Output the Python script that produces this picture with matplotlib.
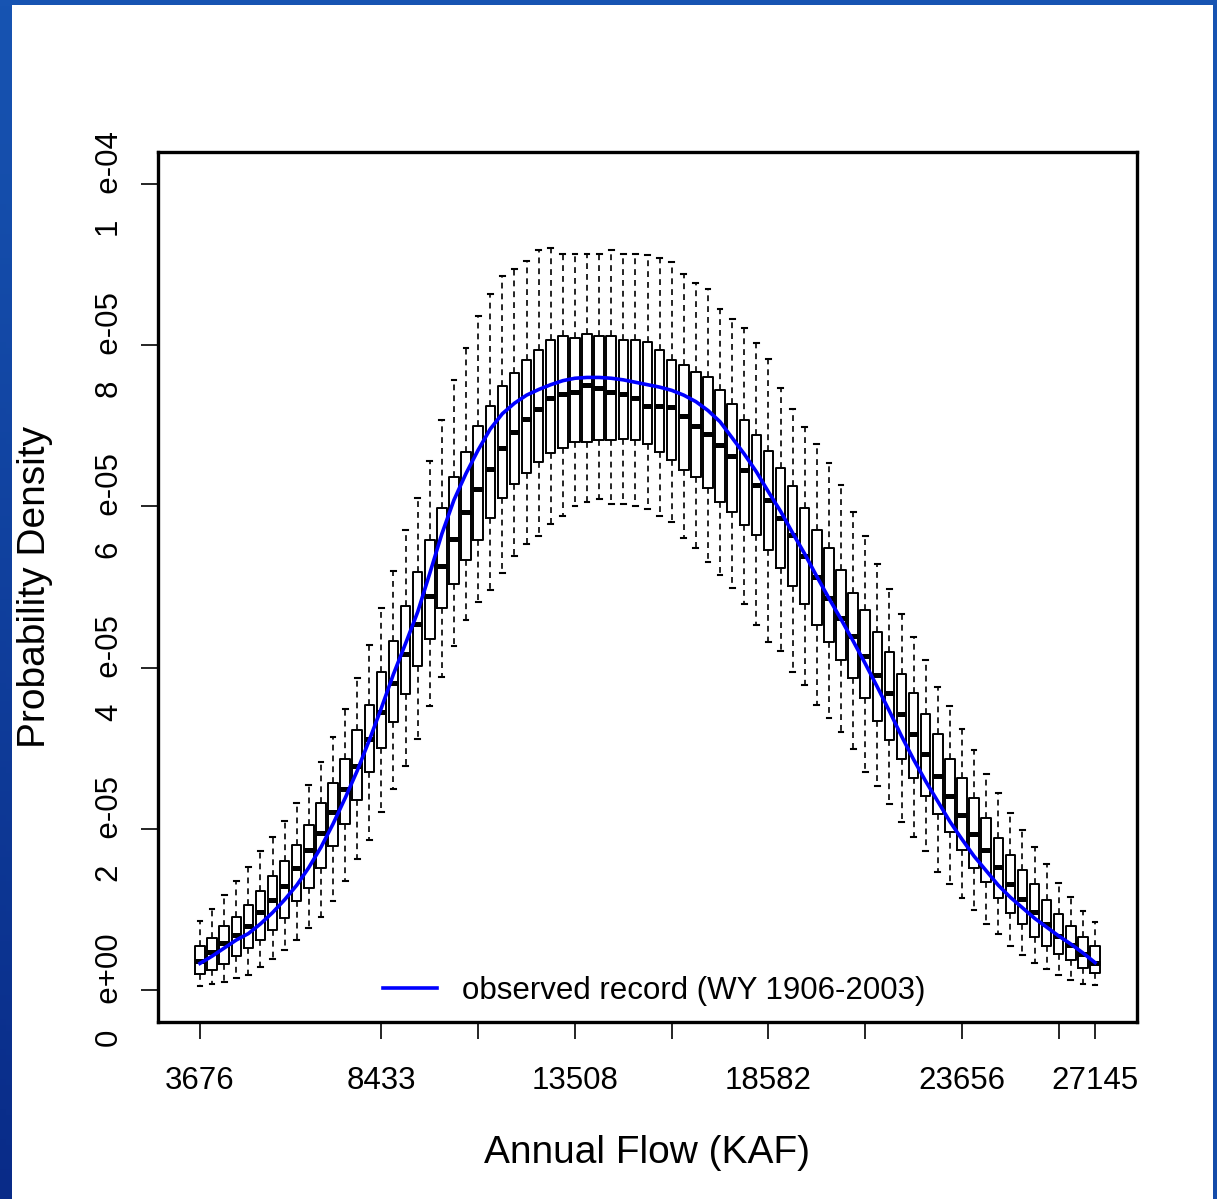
import numpy as np
import matplotlib.pyplot as plt
from matplotlib.patches import Rectangle

plt.rcParams['font.family'] = ['Liberation Sans', 'DejaVu Sans']

# boxplot stats per flow bin (units of 1e-05)
upper_whisker = [0.86, 1.00, 1.18, 1.35, 1.53, 1.73, 1.90, 2.10, 2.32, 2.54,
                 2.83, 3.14, 3.49, 3.87, 4.28, 4.74, 5.20, 5.71, 6.11, 6.56,
                 7.07, 7.57, 7.97, 8.36, 8.64, 8.86, 8.95, 9.04, 9.18, 9.21,
                 9.13, 9.13, 9.13, 9.13, 9.18, 9.13, 9.13, 9.12, 9.08, 9.03,
                 8.88, 8.77, 8.70, 8.45, 8.33, 8.21, 8.03, 7.83, 7.47, 7.21,
                 6.99, 6.77, 6.54, 6.26, 5.93, 5.63, 5.28, 4.98, 4.66, 4.38,
                 4.09, 3.76, 3.52, 3.24, 2.98, 2.68, 2.45, 2.20, 1.98, 1.78,
                 1.56, 1.33, 1.16, 0.98, 0.84]
q3 = [0.54, 0.65, 0.79, 0.91, 1.05, 1.23, 1.41, 1.60, 1.80, 2.05,
      2.32, 2.57, 2.87, 3.22, 3.54, 3.94, 4.33, 4.76, 5.18, 5.58,
      5.98, 6.36, 6.68, 7.00, 7.25, 7.49, 7.66, 7.82, 7.94, 8.06,
      8.11, 8.09, 8.14, 8.11, 8.11, 8.06, 8.06, 8.04, 7.94, 7.82,
      7.75, 7.67, 7.60, 7.44, 7.27, 7.07, 6.89, 6.69, 6.48, 6.25,
      5.98, 5.71, 5.49, 5.21, 4.93, 4.71, 4.44, 4.19, 3.92, 3.69,
      3.42, 3.17, 2.87, 2.63, 2.38, 2.13, 1.88, 1.68, 1.49, 1.31,
      1.12, 0.94, 0.79, 0.66, 0.55]
median = [0.36, 0.475, 0.58, 0.68, 0.79, 0.97, 1.12, 1.29, 1.51, 1.74,
          1.95, 2.21, 2.49, 2.78, 3.11, 3.45, 3.81, 4.17, 4.54, 4.89,
          5.26, 5.60, 5.93, 6.22, 6.47, 6.73, 6.92, 7.09, 7.21, 7.34,
          7.40, 7.42, 7.50, 7.47, 7.42, 7.40, 7.34, 7.25, 7.24, 7.23,
          7.12, 7.00, 6.90, 6.76, 6.62, 6.45, 6.26, 6.08, 5.86, 5.64,
          5.38, 5.12, 4.86, 4.62, 4.39, 4.14, 3.91, 3.68, 3.42, 3.17,
          2.93, 2.66, 2.41, 2.17, 1.94, 1.74, 1.52, 1.32, 1.13, 0.97,
          0.82, 0.67, 0.56, 0.45, 0.33]
q1 = [0.20, 0.25, 0.32, 0.42, 0.52, 0.62, 0.74, 0.89, 1.10, 1.26,
      1.51, 1.79, 2.06, 2.36, 2.71, 3.00, 3.32, 3.67, 4.02, 4.36,
      4.74, 5.04, 5.33, 5.58, 5.86, 6.11, 6.28, 6.42, 6.55, 6.66,
      6.73, 6.80, 6.80, 6.83, 6.83, 6.84, 6.82, 6.77, 6.67, 6.58,
      6.45, 6.36, 6.23, 6.05, 5.93, 5.77, 5.65, 5.46, 5.24, 5.01,
      4.79, 4.53, 4.32, 4.09, 3.87, 3.62, 3.34, 3.10, 2.87, 2.63,
      2.41, 2.18, 1.96, 1.74, 1.51, 1.34, 1.14, 0.96, 0.82, 0.66,
      0.55, 0.45, 0.37, 0.27, 0.21]
lower_whisker = [0.05, 0.07, 0.10, 0.145, 0.19, 0.29, 0.39, 0.50, 0.62, 0.77,
                 0.91, 1.11, 1.35, 1.63, 1.86, 2.21, 2.50, 2.78, 3.12, 3.52,
                 3.88, 4.27, 4.59, 4.82, 4.96, 5.17, 5.38, 5.53, 5.63, 5.78,
                 5.88, 6.00, 6.06, 6.09, 6.03, 6.03, 6.00, 5.97, 5.88, 5.81,
                 5.61, 5.49, 5.31, 5.15, 4.99, 4.79, 4.53, 4.32, 4.20, 3.94,
                 3.78, 3.54, 3.38, 3.20, 2.99, 2.71, 2.53, 2.31, 2.08, 1.90,
                 1.73, 1.46, 1.32, 1.14, 0.99, 0.82, 0.69, 0.55, 0.43, 0.33,
                 0.26, 0.19, 0.12, 0.08, 0.06]
observed = [0.33, 0.42, 0.52, 0.62, 0.70, 0.82, 0.96, 1.12, 1.30, 1.52,
            1.77, 2.06, 2.38, 2.72, 3.10, 3.50, 3.92, 4.30, 4.69, 5.17,
            5.66, 6.08, 6.41, 6.70, 6.96, 7.15, 7.28, 7.38, 7.45, 7.51,
            7.56, 7.59, 7.60, 7.60, 7.59, 7.57, 7.54, 7.51, 7.48, 7.44,
            7.38, 7.30, 7.19, 7.05, 6.85, 6.65, 6.43, 6.18, 5.94, 5.67,
            5.41, 5.13, 4.86, 4.60, 4.33, 4.05, 3.76, 3.46, 3.15, 2.86,
            2.59, 2.34, 2.09, 1.87, 1.66, 1.48, 1.30, 1.15, 1.02, 0.89,
            0.78, 0.67, 0.57, 0.46, 0.34]

tick_pos = [1, 16, 24, 32, 40, 48, 56, 64, 72, 75]
tick_labels = ['3676', '8433', '', '13508', '', '18582', '', '23656', '', '27145']
ytick_vals = [0, 2e-5, 4e-5, 6e-5, 8e-5, 1e-4]
ytick_labels = ['0   e+00', '2   e-05', '4   e-05', '6   e-05', '8   e-05', '1   e-04']

scale = 1e-5
W, H = 1217, 1199
fig = plt.figure(figsize=(W / 100, H / 100), dpi=100)

# blue slide background with white panel
bg = fig.add_axes([0, 0, 1, 1], zorder=-10)
gy = np.linspace(0, 1, 200)[:, None]
gx = np.linspace(0, 1, 200)[None, :]
t = (gy * (1 - 0.8 * gx))[..., None]
light = np.array([0x17, 0x54, 0xb2]) / 255
dark = np.array([0x09, 0x2b, 0x88]) / 255
bg.imshow(light * (1 - t) + dark * t, extent=[0, 1, 0, 1], aspect='auto', origin='upper')
bg.add_patch(Rectangle((12 / W, 0), (1213 - 12) / W, (H - 5) / H,
                       facecolor='white', edgecolor='none', transform=bg.transAxes))
bg.axis('off')

ax = fig.add_axes([158 / W, 1 - 1022 / H, (1137 - 158) / W, (1022 - 152) / H])

n = len(median)
pos = np.arange(1, n + 1)
stats = []
for i in range(n):
    stats.append(dict(med=median[i] * scale, q1=q1[i] * scale, q3=q3[i] * scale,
                      whislo=lower_whisker[i] * scale, whishi=upper_whisker[i] * scale))

ax.bxp(stats, positions=pos, widths=0.78, capwidths=0.4, showfliers=False,
       manage_ticks=False,
       boxprops=dict(color='black', lw=1.4),
       medianprops=dict(color='black', lw=3.6, solid_capstyle='butt'),
       whiskerprops=dict(color='black', lw=1.2, linestyle=(0, (3.5, 3))),
       capprops=dict(color='black', lw=1.5))

ax.plot(pos, np.array(observed) * scale, color='#0000ff', lw=2.6, zorder=5,
        label='observed record (WY 1906-2003)')

ax.set_xlim(-2.47, 78.47)
ax.set_ylim(-0.397e-5, 10.397e-5)
ax.set_xticks(tick_pos)
ax.set_xticklabels(tick_labels)
ax.set_yticks(ytick_vals)
ax.set_yticklabels(ytick_labels, rotation=90, va='center')
ax.tick_params(axis='both', direction='out', length=12.5, width=1.2,
               labelsize=22.5, color='black')
ax.tick_params(axis='x', pad=19)
ax.tick_params(axis='y', pad=11)
for s in ax.spines.values():
    s.set_linewidth(2.4)

ax.set_xlabel('Annual Flow (KAF)', fontsize=28)
ax.set_ylabel('Probability Density', fontsize=28)
ax.xaxis.set_label_coords(0.499, -0.130)
ax.yaxis.set_label_coords(-0.107, 0.5)

ax.legend(loc='center', bbox_to_anchor=(0.507, 0.036), frameon=False,
          fontsize=22.5, handlelength=1.75, handletextpad=0.8)

fig.savefig('out.png', dpi=100)
